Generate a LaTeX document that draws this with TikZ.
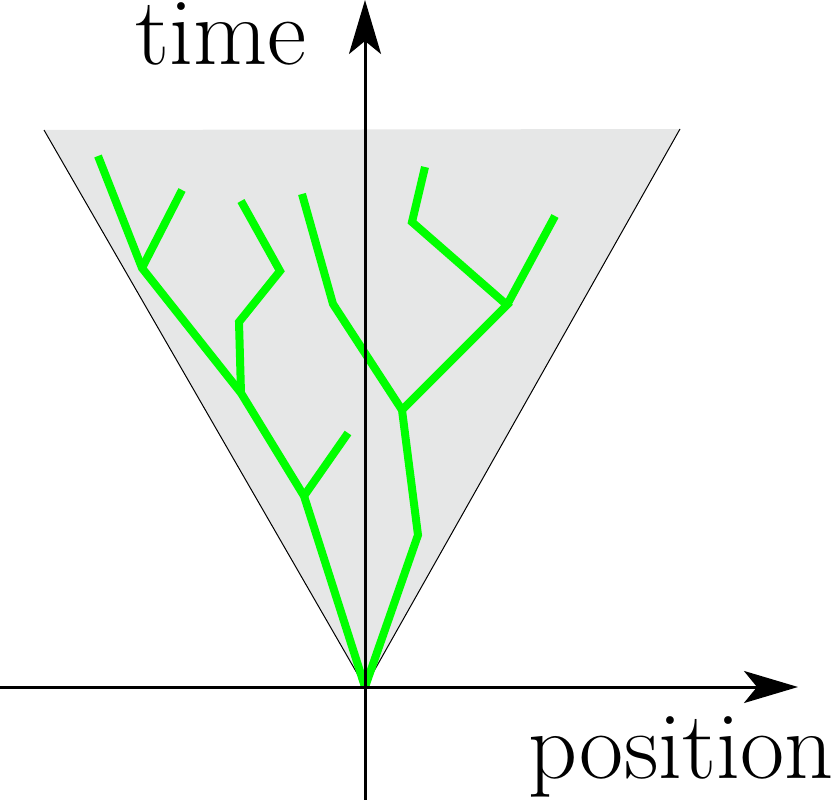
\documentclass[tikz,border=0pt]{standalone}
\usetikzlibrary{arrows.meta}
\definecolor{conegray}{RGB}{230,231,231}
\definecolor{treegreen}{RGB}{0,255,0}
\begin{document}
\begin{tikzpicture}[x=1pt,y=-1pt,
  axis/.style={line width=3pt,-{Stealth[length=54pt,width=32pt,inset=13pt]}},
  conefill/.style={fill=conegray,draw=none},
  coneedge/.style={line width=1pt,black},
  branch/.style={draw=treegreen,line width=8pt,line cap=butt,line join=miter},
  lbl/.style={inner sep=0pt,anchor=base,font=\fontsize{96}{110}\selectfont}]
\useasboundingbox (0,0) rectangle (831,800);
% cone
\coordinate (O) at (365,687);
\coordinate (TL) at (44,130);
\coordinate (TR) at (680,129);
\fill[conefill] (O) -- (TL) -- (TR) -- cycle;
\draw[coneedge] (TL) -- (O) -- (TR);
% tree points
\coordinate (a1) at (304,496);
\coordinate (a2) at (348,433);
\coordinate (a3) at (241,393);
\coordinate (a4) at (239,322);
\coordinate (a5) at (280,271);
\coordinate (a6) at (241,201);
\coordinate (a7) at (142,268);
\coordinate (a8) at (98,156);
\coordinate (a9) at (182,190);
\coordinate (b1) at (418,535);
\coordinate (b2) at (402,410);
\coordinate (b3) at (333,304);
\coordinate (b4) at (302,194);
\coordinate (b5) at (507,305);
\coordinate (b6) at (412,222);
\coordinate (b7) at (425,167);
\coordinate (b8) at (555,216);
% branches
\draw[branch] (O) -- (a1) -- (a3) -- (a7) -- (a8);
\draw[branch] (a7) -- (a9);
\draw[branch] (a3) -- (a4) -- (a5) -- (a6);
\draw[branch] (a1) -- (a2);
\draw[branch] (O) -- (b1) -- (b2) -- (b3) -- (b4);
\draw[branch] (b2) -- (b5) -- (b6) -- (b7);
\draw[branch] (b5) -- (b8);
% axes
\coordinate (xs) at (0,687);
\coordinate (xe) at (798,687);
\coordinate (ys) at (365,800);
\coordinate (ye) at (365,0);
\draw[axis] (xs) -- (xe);
\draw[axis] (ys) -- (ye);
% labels
\node[lbl] (tlabel) at (221,65) {time};
\node[lbl] (plabel) at (681,778) {position};
\end{tikzpicture}
\end{document}
